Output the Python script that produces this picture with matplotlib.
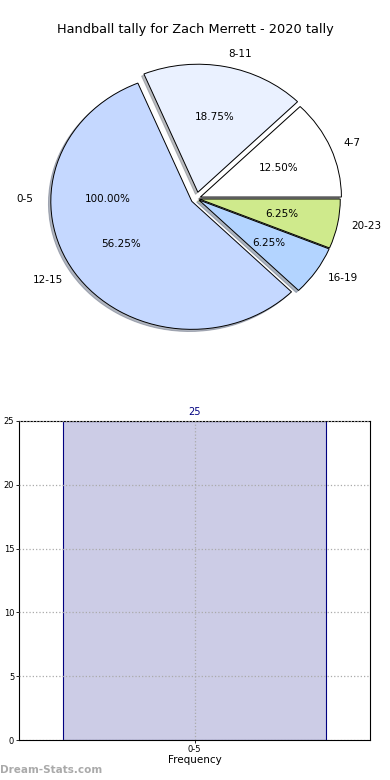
import matplotlib
matplotlib.use('Agg')
import matplotlib.pyplot as plt

# pie data (counter-clockwise from 0 degrees)
pie_labels = ['4-7', '8-11', '12-15', '16-19', '20-23']
pie_values = [2, 3, 9, 1, 1]
pie_colors = ['#ffffff', '#eaf1ff', '#c5d8ff', '#b3d4ff', '#cfea8c']
pie_explode = [0.03, 0.05, 0.04, 0.02, 0.02]

# the odd overlaid single-bucket pie
extra_labels = ['0-5']
extra_values = [25]

# bar data
bar_cats = ['0-5']
bar_vals = [25]

fig = plt.figure(figsize=(3.9, 7.8), dpi=100)

fig.text(0.5, 1 - 30 / 780, 'Handball tally for Zach Merrett - 2020 tally',
         ha='center', va='center', fontsize=9.3)

# pie is a bit squashed in the original, so no equal aspect
ax1 = fig.add_axes([20.25 / 390, 1 - 358.5 / 780, 352.5 / 390, 320 / 780])
ax1.pie(pie_values, labels=pie_labels, colors=pie_colors, explode=pie_explode,
        autopct='%.2f%%', startangle=0,
        shadow={'ox': -0.012, 'oy': -0.012, 'shade': 0.5},
        wedgeprops={'edgecolor': 'black', 'linewidth': 0.7},
        textprops={'fontsize': 7.5})
ax1.pie(extra_values, labels=extra_labels, autopct='%.2f%%', startangle=0,
        radius=1.05, wedgeprops={'fill': False, 'linewidth': 0},
        textprops={'fontsize': 7.5})
ax1.set_xlim(-1.25, 1.25)
ax1.set_ylim(-1.25, 1.25)
ax1.set_aspect('auto')
ax1.axis('off')

ax2 = fig.add_axes([19 / 390, 1 - 740 / 780, 351 / 390, 319 / 780])
bars = ax2.bar(range(len(bar_vals)), bar_vals, width=0.75,
               color='#ccccE6', edgecolor='#000080', linewidth=0.8, zorder=2)
for i, v in enumerate(bar_vals):
    ax2.text(i, v + 0.3, str(v), ha='center', va='bottom', color='#000080', fontsize=7)
ax2.set_xlim(-0.5, 0.5)
ax2.set_ylim(0, 25)
ax2.set_yticks([0, 5, 10, 15, 20, 25])
ax2.set_xticks(range(len(bar_cats)))
ax2.set_xticklabels(bar_cats)
ax2.tick_params(labelsize=6, length=2, direction='out', width=0.6, pad=1.5)
ax2.grid(True, linestyle=':', color='#aaaaaa', linewidth=0.9, zorder=3)
ax2.set_axisbelow(False)
ax2.set_xlabel('Frequency', fontsize=7.5, labelpad=1)
ax2.set_ylabel('Total Hand Tally', fontsize=7)
ax2.yaxis.set_label_coords(-0.055, 0.5)
for s in ax2.spines.values():
    s.set_linewidth(0.8)

fig.text(0.0, 1 - 770 / 780, 'Dream-Stats.com', fontsize=7.5, color='#aaaaaa',
         ha='left', va='center', fontweight='bold')

fig.savefig('out.png', dpi=100)
